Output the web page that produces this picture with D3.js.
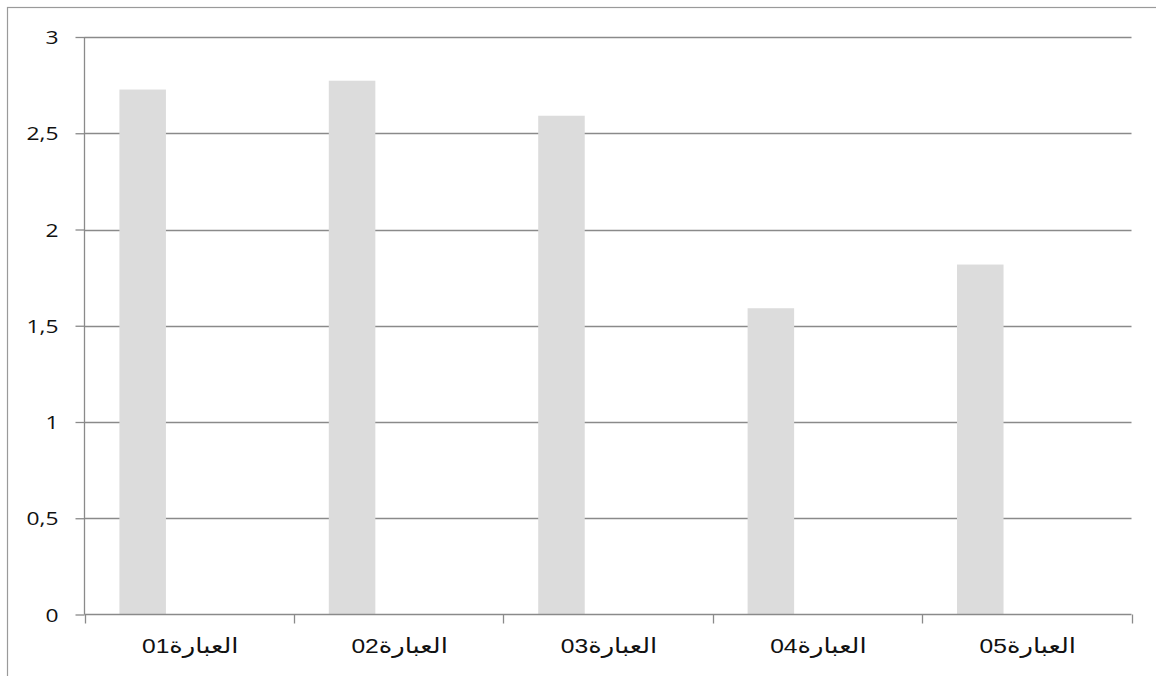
<!DOCTYPE html>
<html>
<head>
<meta charset="utf-8">
<script src="https://cdn.jsdelivr.net/npm/d3@7"></script>
<style>
  html, body { margin: 0; padding: 0; background: #fff; overflow: hidden; }
  svg { display: block; }
</style>
</head>
<body>
<svg id="chart" width="1156" height="676"></svg>
<script>
const categoryWords = ["العبارة", "العبارة", "العبارة", "العبارة", "العبارة"];
const categoryNumbers = ["01", "02", "03", "04", "05"];
const categories = categoryWords.map((w, i) => w + categoryNumbers[i]);
const values = [2.727, 2.773, 2.591, 1.591, 1.818];
const yTicks = [0, 0.5, 1, 1.5, 2, 2.5, 3];
const yTickLabels = ["0", "0,5", "1", "1,5", "2", "2,5", "3"];
const seriesSlots = ["s1", "s2", "s3"];

(function () {
const svg = d3.select("#chart");
const pLeft = 84.5, pRight = 1131.5, pTop = 37, pBottom = 614.5;
const gridColor = "#8a8a8a";
const stretch = 1.2;

// outer frame (extends past the viewport on right and bottom)
svg.append("rect")
  .attr("x", 7.5).attr("y", 7.5)
  .attr("width", 1300).attr("height", 800)
  .attr("fill", "none").attr("stroke", "#9a9a9a").attr("stroke-width", 1.2);

const x = d3.scaleBand().domain(categories).range([pLeft, pRight]).paddingInner(0).paddingOuter(0);
const xs = d3.scaleBand().domain(seriesSlots).range([0, x.bandwidth()]).paddingInner(0).paddingOuter(0.75);
const y = d3.scaleLinear().domain([0, 3]).range([pBottom, pTop]);

// gridlines
svg.append("g").selectAll("line").data(yTicks.filter(d => d > 0)).join("line")
  .attr("x1", pLeft).attr("x2", pRight)
  .attr("y1", d => Math.round(y(d)) + 0.5).attr("y2", d => Math.round(y(d)) + 0.5)
  .attr("stroke", gridColor).attr("stroke-width", 1.3);

// bars
svg.append("g").selectAll("rect").data(values).join("rect")
  .attr("x", (d, i) => x(categories[i]) + xs("s1"))
  .attr("width", xs.bandwidth())
  .attr("y", d => y(d))
  .attr("height", d => y(0) - y(d))
  .attr("fill", "#dcdcdc");

// y axis
const yAxis = d3.axisLeft(y).tickValues(yTicks).tickSize(9).tickPadding(17)
  .tickFormat((d, i) => yTickLabels[i]);
const gy = svg.append("g").attr("transform", `translate(${pLeft},0)`).call(yAxis);
gy.attr("font-size", null).attr("font-family", null);
gy.select(".domain").attr("stroke", gridColor).attr("stroke-width", 1.3).attr("d", `M0,${pTop}V${pBottom}`);
gy.selectAll(".tick line").attr("stroke", gridColor).attr("stroke-width", 1.3);
gy.selectAll(".tick text").attr("fill", "#111")
  .attr("x", 0)
  .attr("dy", "0.35em")
  .attr("transform", `translate(-26,0) scale(${stretch},1)`)
  .style("font-family", "'Open Sans', 'Noto Sans', sans-serif").style("font-size", "19px");

// x axis
const boundaries = categories.map(c => x(c)).concat([pRight]);
const gx = svg.append("g");
gx.append("line").attr("x1", pLeft).attr("x2", pRight).attr("y1", pBottom).attr("y2", pBottom)
  .attr("stroke", gridColor).attr("stroke-width", 1.3);
gx.selectAll("line.tk").data(boundaries).join("line").attr("class", "tk")
  .attr("x1", d => Math.round(d) + 0.5).attr("x2", d => Math.round(d) + 0.5)
  .attr("y1", pBottom).attr("y2", pBottom + 9)
  .attr("stroke", gridColor).attr("stroke-width", 1.3);
const labels = gx.selectAll("text").data(categories).join("text")
  .attr("transform", d => `translate(${x(d) + x.bandwidth() / 2 + 1},653) scale(${stretch},1)`)
  .attr("text-anchor", "middle")
  .attr("fill", "#111")
  .style("font-size", "20px");
labels.append("tspan")
  .style("font-family", "'DejaVu Sans', sans-serif")
  .style("font-size", "21.5px")
  .text((d, i) => categoryWords[i]);
labels.append("tspan")
  .style("font-family", "'Liberation Sans', Arial, sans-serif")
  .style("font-size", "20.5px")
  .text((d, i) => categoryNumbers[i]);
})();
</script>
</body>
</html>
